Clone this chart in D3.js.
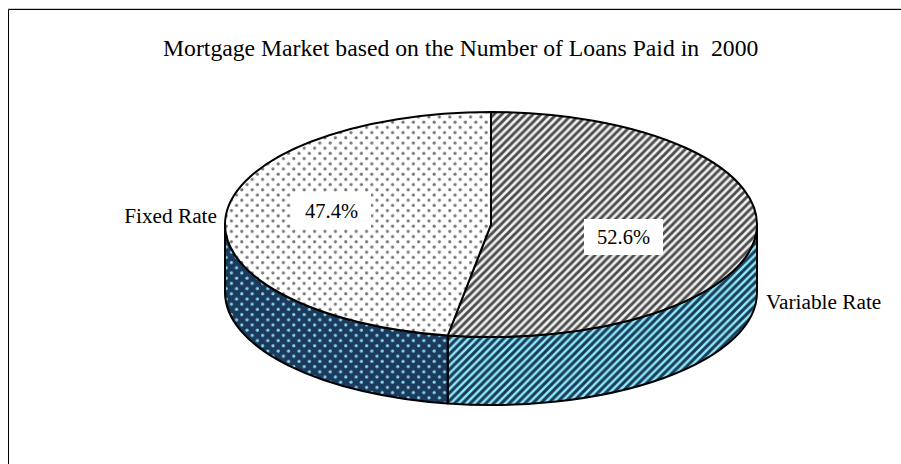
<!DOCTYPE html>
<html><head><meta charset="utf-8">
<style>html,body{margin:0;padding:0;background:#fff}svg{display:block}text{font-family:"Liberation Serif","Times New Roman",serif;fill:#000}</style>
<script src="https://cdn.jsdelivr.net/npm/d3@7"></script>
</head><body><svg id="c" width="901" height="464"></svg>
<script>
const title = "Mortgage Market based on the Number of Loans Paid in  2000";
const categories = ["Variable Rate", "Fixed Rate"];
const shares = [52.6, 47.4];
const shareLabels = ["52.6%", "47.4%"];

const svg = d3.select("#c");
const W = 901, H = 464;
const cx = 491, cy = 224.5, rx = 266, ry = 112.5, depth = 68;
const defs = svg.append("defs");

function stripes(id, bg, fg, sw) {
  const p = defs.append("pattern").attr("id", id).attr("patternUnits", "userSpaceOnUse")
    .attr("width", 7.8).attr("height", 7.8);
  p.append("rect").attr("width", 7.8).attr("height", 7.8).attr("fill", bg);
  p.append("path").attr("d", "M-2,2 L2,-2 M-2,9.8 L9.8,-2 M5.8,9.8 L9.8,5.8").attr("stroke", fg).attr("stroke-width", sw).attr("fill", "none");
}
function dots(id, bg, fg) {
  const p = defs.append("pattern").attr("id", id).attr("patternUnits", "userSpaceOnUse")
    .attr("width", 10.4).attr("height", 10.4);
  p.append("rect").attr("width", 10.4).attr("height", 10.4).attr("fill", bg);
  [[2.6, 2.6], [7.8, 7.8]].forEach(d => p.append("circle").attr("cx", d[0]).attr("cy", d[1]).attr("r", 1.6).attr("fill", fg));
}
stripes("pVarTop", "#f0f0f0", "#4d4d4d", 2.9);
stripes("pVarSide", "#8ceaf2", "#1b3a5e", 3);
dots("pFixTop", "#fff", "#777");
dots("pFixSide", "#1b3a5e", "#86d6e0");

// frame: top and left rules only
svg.append("path").attr("d", `M8.5,${H} V9.5 H${W}`).attr("fill", "none").attr("stroke", "#000").attr("stroke-width", 1);
svg.append("path").attr("d", `M8,8.5 H${W}`).attr("fill", "none").attr("stroke", "#ccc").attr("stroke-width", 1);

svg.append("text").attr("x", 163).attr("y", 55.5).attr("font-size", 23.7).style("white-space", "pre").text(title);

const arcs = d3.pie().sort(null)(shares);
const toAngle = d3.scaleLinear().domain([0, 2 * Math.PI]).range([-Math.PI / 2, 1.5 * Math.PI]);
const px = a => cx + rx * Math.cos(toAngle(a));
const py = a => cy + ry * Math.sin(toAngle(a));
const large = (a0, a1) => (a1 - a0 > Math.PI ? 1 : 0);

const sideFill = ["url(#pVarSide)", "url(#pFixSide)"];
arcs.forEach((d, i) => {
  const a0 = Math.max(d.startAngle, Math.PI / 2), a1 = Math.min(d.endAngle, 1.5 * Math.PI);
  if (a1 <= a0) return;
  svg.append("path").attr("d",
    `M${px(a0)},${py(a0)} A${rx},${ry} 0 0 1 ${px(a1)},${py(a1)} L${px(a1)},${py(a1) + depth} A${rx},${ry} 0 0 0 ${px(a0)},${py(a0) + depth} Z`)
    .attr("fill", sideFill[i]).attr("stroke", "#000").attr("stroke-width", 2).attr("stroke-linejoin", "round");
});

const topFill = ["url(#pVarTop)", "url(#pFixTop)"];
arcs.forEach((d, i) => {
  svg.append("path").attr("d",
    `M${cx},${cy} L${px(d.startAngle)},${py(d.startAngle)} A${rx},${ry} 0 ${large(d.startAngle, d.endAngle)} 1 ${px(d.endAngle)},${py(d.endAngle)} Z`)
    .attr("fill", topFill[i]).attr("stroke", "#000").attr("stroke-width", 2).attr("stroke-linejoin", "round");
});

const valueBoxes = [[584, 219], [292, 193]];
const catPos = [[766, 309, "start"], [217, 223, "end"]];
arcs.forEach((d, i) => {
  const [x, y] = valueBoxes[i];
  svg.append("rect").attr("x", x).attr("y", y).attr("width", 79).attr("height", 36).attr("fill", "#fff");
  svg.append("text").attr("x", x + 39.5).attr("y", y + 25).attr("text-anchor", "middle").attr("font-size", 20.5).text(shareLabels[i]);
  svg.append("text").attr("x", catPos[i][0]).attr("y", catPos[i][1]).attr("text-anchor", catPos[i][2]).attr("font-size", 21.3).text(categories[i]);
});
</script></body></html>
